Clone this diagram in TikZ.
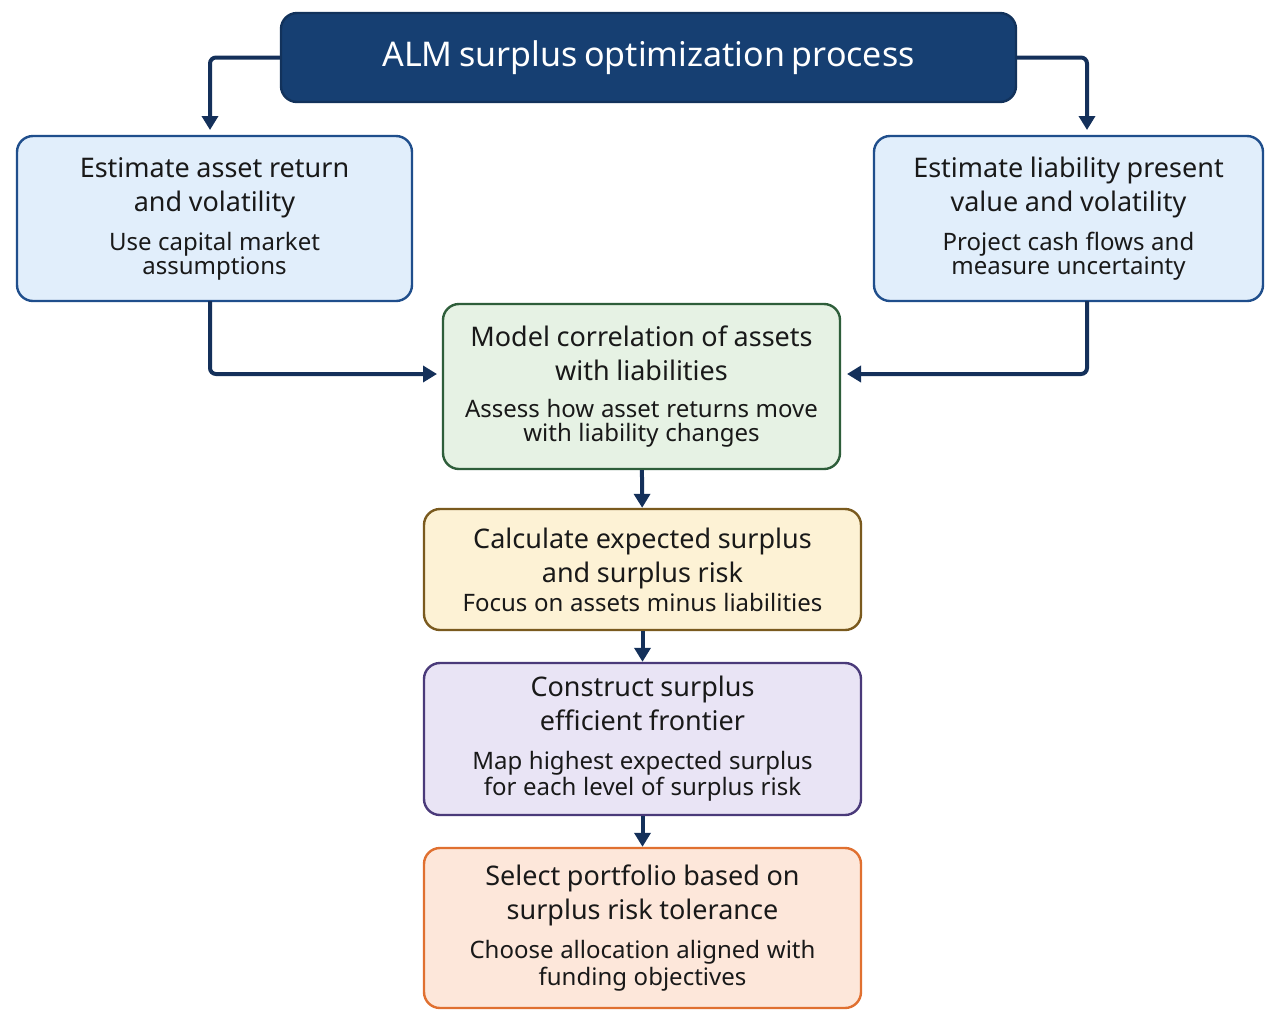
\documentclass[tikz,border=0pt]{standalone}
\usepackage{fontspec}
\setmainfont{Noto Sans}
\usetikzlibrary{arrows.meta}
\definecolor{titleblue}{HTML}{163F72}
\definecolor{edgeblue}{HTML}{1F4E8C}
\definecolor{fillblue}{HTML}{E1EEFB}
\definecolor{edgegreen}{HTML}{2E5E3A}
\definecolor{fillgreen}{HTML}{E6F2E4}
\definecolor{edgeyellow}{HTML}{7A5A1E}
\definecolor{fillyellow}{HTML}{FDF2D5}
\definecolor{edgepurple}{HTML}{4A3A7A}
\definecolor{fillpurple}{HTML}{E9E4F5}
\definecolor{edgeorange}{HTML}{E07030}
\definecolor{fillorange}{HTML}{FDE7DA}
\definecolor{arrowblue}{HTML}{14305A}
\tikzset{
  stepbox/.style={draw, line width=1.2pt, rounded corners=8pt, align=center, text width=185pt, inner sep=0pt, text=black!90},
  flow/.style={draw=arrowblue, line width=2pt, rounded corners=3pt, -{Triangle[length=7pt,width=8pt]}},
}
\newcommand{\hdfont}{\fontsize{13.5pt}{17pt}\selectfont\bfseries}
\newcommand{\bdfont}{\fontsize{12pt}{16.5pt}\selectfont\mdseries}
\begin{document}
\begin{tikzpicture}[x=0.5pt,y=-0.5pt]
\useasboundingbox[fill=white] (0,0) rectangle (1281,1024);
% title
\node[stepbox, text width=360pt, draw=titleblue!80!black, fill=titleblue, text=white, minimum width=367.5pt, minimum height=44.5pt] (title) at (648.5,57.5) {\fontsize{17pt}{20pt}\selectfont\bfseries ALM surplus optimization process};
% top row
\node[stepbox, draw=edgeblue, fill=fillblue, minimum width=197.5pt, minimum height=82.5pt] (asset) at (214.5,218.5) {\hdfont Estimate asset return\\and volatility\\[3pt]\bdfont Use capital market\\assumptions};
\node[stepbox, draw=edgeblue, fill=fillblue, minimum width=194.5pt, minimum height=82.5pt] (liab) at (1068.5,218.5) {\hdfont Estimate liability present\\value and volatility\\[3pt]\bdfont Project cash flows and\\measure uncertainty};
% centre column
\node[stepbox, draw=edgegreen, fill=fillgreen, minimum width=198.5pt, minimum height=82.5pt] (corr) at (641.5,386.5) {\hdfont Model correlation of assets\\with liabilities\\[2pt]\bdfont Assess how asset returns move\\with liability changes};
\node[stepbox, draw=edgeyellow, fill=fillyellow, minimum width=218.5pt, minimum height=60.5pt] (surplus) at (642.5,569.5) {\hdfont Calculate expected surplus\\and surplus risk\\[1pt]\bdfont Focus on assets minus liabilities};
\node[stepbox, draw=edgepurple, fill=fillpurple, minimum width=218.5pt, minimum height=76pt] (frontier) at (642.5,739) {\hdfont Construct surplus\\efficient frontier\\[3pt]\bdfont Map highest expected surplus\\for each level of surplus risk};
\node[stepbox, draw=edgeorange, fill=fillorange, minimum width=218.5pt, minimum height=80pt] (select) at (642.5,928) {\hdfont Select portfolio based on\\surplus risk tolerance\\[3pt]\bdfont Choose allocation aligned with\\funding objectives};
% connectors
\coordinate (assetin) at (210,130);
\coordinate (liabin) at (1087,130);
\coordinate (assetout) at (210,301);
\coordinate (liabout) at (1087,301);
\coordinate (corrleft) at (437,374);
\coordinate (corrright) at (847,374);
\draw[flow] (title.west) -| (assetin);
\draw[flow] (title.east) -| (liabin);
\draw[flow] (assetout) |- (corrleft);
\draw[flow] (liabout) |- (corrright);
\draw[flow] (corr) -- (surplus);
\draw[flow] (surplus) -- (frontier);
\draw[flow] (frontier) -- (select);
\end{tikzpicture}
\end{document}
